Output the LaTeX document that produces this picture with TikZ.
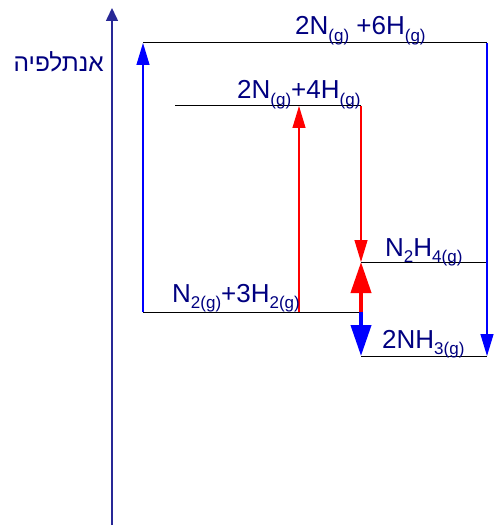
\documentclass[tikz,border=0pt]{standalone}
\usepackage{fontspec}
\setmainfont{Liberation Sans}
\newfontfamily\hebfont[Script=Hebrew]{Liberation Sans}
\TeXXeTstate=1
\usetikzlibrary{arrows.meta}
\definecolor{labelnavy}{RGB}{0,0,128}
\definecolor{axisnavy}{RGB}{40,40,150}
\definecolor{pureblue}{RGB}{0,0,255}
\definecolor{purered}{RGB}{255,0,0}
\newcommand{\phs}[1]{\raisebox{-0.25em}{\fontsize{17}{17}\selectfont #1}}

\begin{document}
\begin{tikzpicture}[
    x=1pt, y=-1pt,
    level/.style={draw=black, line width=1pt},
    species/.style={inner sep=0pt, text=labelnavy, font=\fontsize{26}{26}\selectfont},
    thinblue/.style={pureblue, line width=1.2pt, -{Triangle[length=22pt,width=13pt]}},
    thinred/.style={purered, line width=1.2pt, -{Triangle[length=22pt,width=13pt]}},
    thickarrow/.style={line width=4pt, -{Triangle[length=31pt,width=20pt]}}
]
    \useasboundingbox (0,0) rectangle (493,526);

    % energy levels
    \coordinate (atomsL) at (143,43);  \coordinate (atomsR) at (487,43);
    \coordinate (midL) at (175,106);   \coordinate (midR) at (361,106);
    \coordinate (hydrL) at (361,262);  \coordinate (hydrR) at (487,262);
    \coordinate (reacL) at (143,312);  \coordinate (reacR) at (361,312);
    \coordinate (prodL) at (361,356);  \coordinate (prodR) at (487,356);
    \coordinate (reacX) at (299,312);  \coordinate (midX) at (299,106);
    \coordinate (axbot) at (112,525);  \coordinate (axtop) at (112,8);

    \draw[axisnavy, line width=1.5pt, -{Triangle[length=13pt,width=12pt]}] (axbot) -- (axtop);
    \node[inner sep=0pt, anchor=base east, text=labelnavy, font=\fontsize{24.5}{24.5}\selectfont]
        (enthalpy) at (104,72) {\hebfont\beginR אנתלפיה\endR};

    \draw[level] (atomsL) -- (atomsR);
    \draw[level] (midL) -- (midR);
    \draw[level] (hydrL) -- (hydrR);
    \draw[level] (reacL) -- (reacR);
    \draw[level] (prodL) -- (prodR);

    \draw[thinblue] (reacL) -- (atomsL);
    \draw[thinblue] (atomsR) -- (prodR);
    \draw[thinred] (reacX) -- (midX);
    \draw[thinred] (midR) -- (hydrL);
    \draw[thickarrow, purered] (reacR) -- (hydrL);
    \draw[thickarrow, pureblue] (reacR) -- (prodL);

    \node[species, anchor=base west] (atoms) at (295,35) {2N\phs{(g)} +6H\phs{(g)}};
    \node[species, anchor=base west] (mid) at (237,99) {2N\phs{(g)}+4H\phs{(g)}};
    \node[species, anchor=base west] (hydrazine) at (385,256) {N\phs{2}H\phs{4(g)}};
    \node[species, anchor=base west] (reactants) at (172,302) {N\phs{2(g)}+3H\phs{2(g)}};
    \node[species, anchor=base west] (ammonia) at (382,348) {2NH\phs{3(g)}};
\end{tikzpicture}
\end{document}
